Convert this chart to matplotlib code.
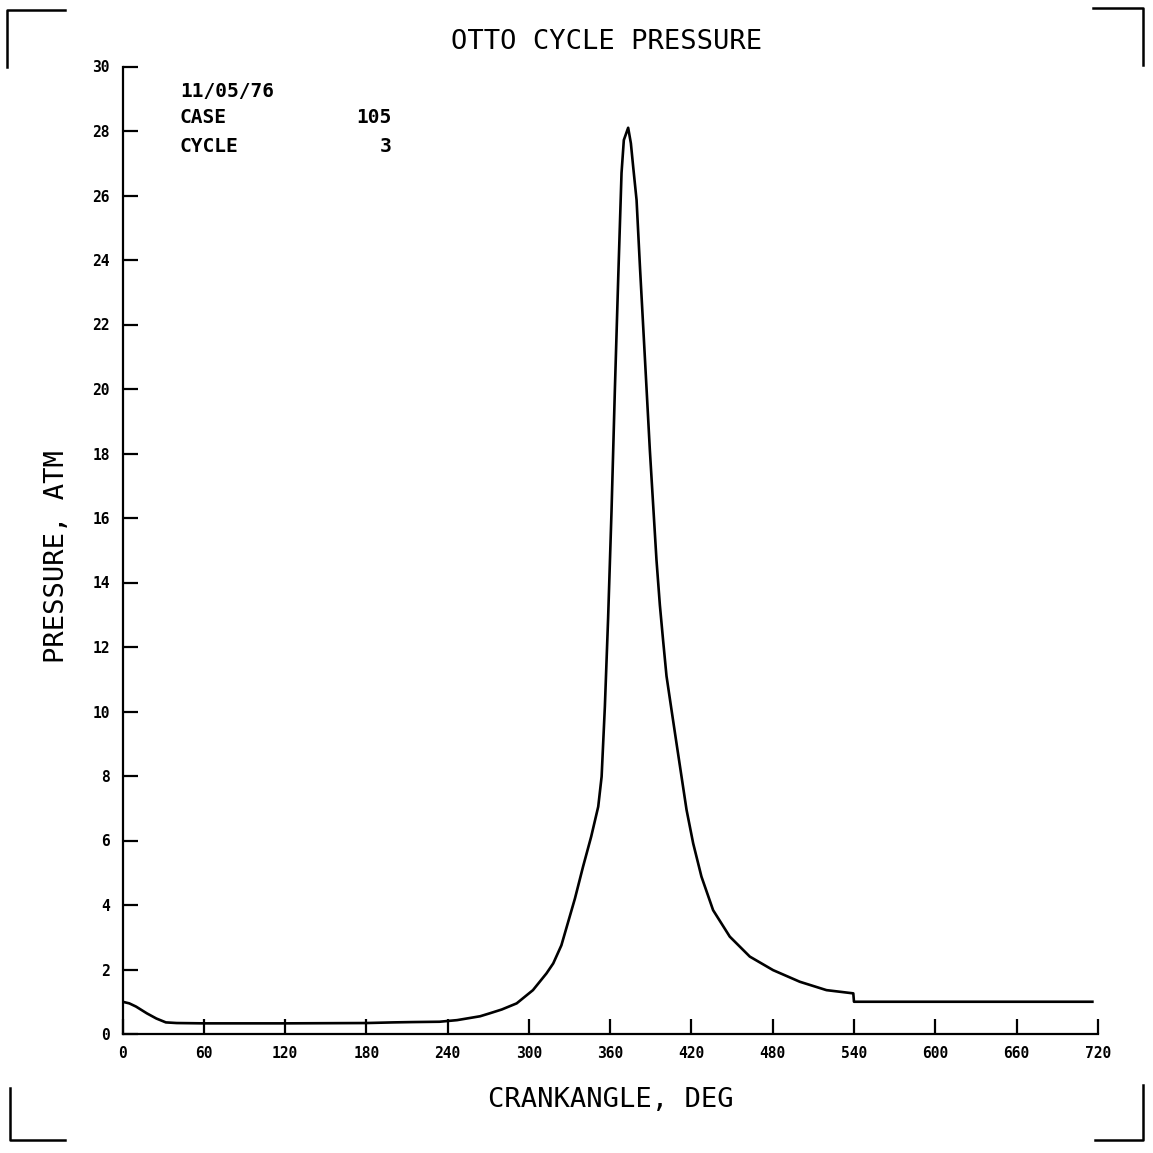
import matplotlib.pyplot as plt
from matplotlib.lines import Line2D

# crank angle (deg) and cylinder pressure (atm)
crank_deg = [0, 5, 10, 18, 25, 32, 40, 60, 120, 180, 200, 214, 234, 247, 264, 271,
             280, 291, 303, 313, 318, 324, 328, 334, 340, 346, 351.2, 353.7, 356.1,
             358.5, 361, 363.5, 366, 368.4, 370.1, 373.3, 375.3, 377, 379.5, 382, 386,
             389.3, 394.2, 396.7, 399.1, 401.6, 405.3, 409, 412.7, 416.4, 421.3, 427.4,
             436, 448.3, 463.1, 480.3, 500, 519.7, 539.5, 540, 600, 716]
pressure_atm = [1.0, 0.95, 0.85, 0.64, 0.48, 0.36, 0.34, 0.33, 0.33, 0.34, 0.36, 0.37,
                0.38, 0.43, 0.55, 0.64, 0.76, 0.95, 1.36, 1.88, 2.19, 2.75, 3.33, 4.2,
                5.19, 6.12, 7.05, 7.98, 10.15, 12.9, 16.2, 20.0, 23.5, 26.7, 27.72,
                28.1, 27.62, 26.89, 25.86, 23.79, 20.69, 18.11, 14.7, 13.3, 12.2, 11.1,
                10.05, 9.01, 7.98, 6.95, 5.91, 4.88, 3.84, 3.02, 2.4, 1.98, 1.62, 1.36,
                1.26, 1.0, 1.0, 1.0]

xticks = list(range(0, 721, 60))
yticks = list(range(0, 31, 2))

info_keys = ['CASE', 'CYCLE']
info_vals = ['105', '3']
run_date = '11/05/76'

W = 1153.0
mono = 'DejaVu Sans Mono'

fig = plt.figure(figsize=(11.53, 11.53), dpi=100)
ax = fig.add_axes([122.5 / W, 1 - 1034 / W, 975.3 / W, 967.5 / W])

ax.plot(crank_deg, pressure_atm, 'k-', lw=1.9)

ax.set_xlim(0, 720)
ax.set_ylim(0, 30)
ax.set_xticks(xticks)
ax.set_yticks(yticks)
ax.set_xticklabels([str(v) for v in xticks], fontfamily=mono, fontweight='bold', fontsize=10.5)
ax.set_yticklabels([str(v) for v in yticks], fontfamily=mono, fontweight='bold', fontsize=10.5)
ax.tick_params(direction='in', length=11, width=1.6, color='k', pad=9)

for s in ['top', 'right']:
    ax.spines[s].set_visible(False)
for s in ['left', 'bottom']:
    ax.spines[s].set_linewidth(1.6)

# header block
ax.text(42.4, 29.24, run_date, fontfamily=mono, fontweight='bold', fontsize=14, va='center')
for k, (key, val) in enumerate(zip(info_keys, info_vals)):
    yy = 28.42 - 0.9 * k
    ax.text(42.4, yy, key, fontfamily=mono, fontweight='bold', fontsize=14, va='center')
    ax.text(198.9, yy, val, fontfamily=mono, fontweight='bold', fontsize=14, va='center', ha='right')

fig.text(607 / W, 1 - 42 / W, 'OTTO CYCLE PRESSURE', fontfamily=mono, fontsize=19.5,
         ha='center', va='center')
fig.text(611 / W, 1 - 1100 / W, 'CRANKANGLE, DEG', fontfamily=mono, fontsize=19.5,
         ha='center', va='center')
fig.text(57 / W, 1 - 557 / W, 'PRESSURE, ATM', fontfamily=mono, fontsize=19.5,
         ha='center', va='center', rotation=90)

# film frame corner marks
marks = [
    ([7, 7, 65], [67, 10, 10]),
    ([1093, 1143, 1143], [8, 8, 65]),
    ([10, 10, 65], [1088, 1140, 1140]),
    ([1095, 1143, 1143], [1140, 1140, 1085]),
]
for xs, ys in marks:
    fig.add_artist(Line2D([x / W for x in xs], [1 - y / W for y in ys],
                          transform=fig.transFigure, color='k', lw=1.8))

fig.savefig('out.png', dpi=100, facecolor='white')
